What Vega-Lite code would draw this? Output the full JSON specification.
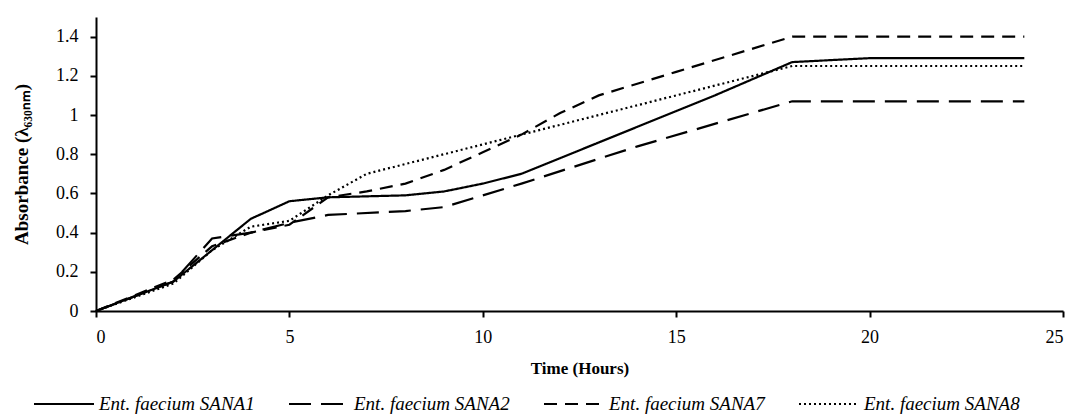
{
  "$schema": "https://vega.github.io/schema/vega-lite/v6.json",
  "width": 967,
  "height": 294,
  "autosize": {"type": "none"},
  "padding": {"left": 96, "top": 17, "right": 10, "bottom": 106},
  "background": "white",
  "config": {"view": {"stroke": null}, "font": "Liberation Serif"},
  "data": {"values": [
    {"strain": "Ent. faecium SANA1", "time": 0, "abs": 0},
    {"strain": "Ent. faecium SANA1", "time": 2, "abs": 0.15},
    {"strain": "Ent. faecium SANA1", "time": 3, "abs": 0.31},
    {"strain": "Ent. faecium SANA1", "time": 4, "abs": 0.47},
    {"strain": "Ent. faecium SANA1", "time": 5, "abs": 0.56},
    {"strain": "Ent. faecium SANA1", "time": 6, "abs": 0.58},
    {"strain": "Ent. faecium SANA1", "time": 8, "abs": 0.59},
    {"strain": "Ent. faecium SANA1", "time": 9, "abs": 0.61},
    {"strain": "Ent. faecium SANA1", "time": 10, "abs": 0.65},
    {"strain": "Ent. faecium SANA1", "time": 11, "abs": 0.70},
    {"strain": "Ent. faecium SANA1", "time": 13, "abs": 0.86},
    {"strain": "Ent. faecium SANA1", "time": 16, "abs": 1.10},
    {"strain": "Ent. faecium SANA1", "time": 18, "abs": 1.27},
    {"strain": "Ent. faecium SANA1", "time": 20, "abs": 1.29},
    {"strain": "Ent. faecium SANA1", "time": 24, "abs": 1.29},
    {"strain": "Ent. faecium SANA2", "time": 0, "abs": 0},
    {"strain": "Ent. faecium SANA2", "time": 2, "abs": 0.15},
    {"strain": "Ent. faecium SANA2", "time": 3, "abs": 0.37},
    {"strain": "Ent. faecium SANA2", "time": 4, "abs": 0.40},
    {"strain": "Ent. faecium SANA2", "time": 5, "abs": 0.45},
    {"strain": "Ent. faecium SANA2", "time": 6, "abs": 0.49},
    {"strain": "Ent. faecium SANA2", "time": 8, "abs": 0.51},
    {"strain": "Ent. faecium SANA2", "time": 9, "abs": 0.53},
    {"strain": "Ent. faecium SANA2", "time": 10, "abs": 0.59},
    {"strain": "Ent. faecium SANA2", "time": 11, "abs": 0.65},
    {"strain": "Ent. faecium SANA2", "time": 14, "abs": 0.84},
    {"strain": "Ent. faecium SANA2", "time": 18, "abs": 1.07},
    {"strain": "Ent. faecium SANA2", "time": 24, "abs": 1.07},
    {"strain": "Ent. faecium SANA7", "time": 0, "abs": 0},
    {"strain": "Ent. faecium SANA7", "time": 2, "abs": 0.16},
    {"strain": "Ent. faecium SANA7", "time": 3, "abs": 0.33},
    {"strain": "Ent. faecium SANA7", "time": 4, "abs": 0.40},
    {"strain": "Ent. faecium SANA7", "time": 5, "abs": 0.44},
    {"strain": "Ent. faecium SANA7", "time": 6, "abs": 0.58},
    {"strain": "Ent. faecium SANA7", "time": 7, "abs": 0.61},
    {"strain": "Ent. faecium SANA7", "time": 8, "abs": 0.65},
    {"strain": "Ent. faecium SANA7", "time": 9, "abs": 0.72},
    {"strain": "Ent. faecium SANA7", "time": 10, "abs": 0.81},
    {"strain": "Ent. faecium SANA7", "time": 11, "abs": 0.90},
    {"strain": "Ent. faecium SANA7", "time": 12, "abs": 1.01},
    {"strain": "Ent. faecium SANA7", "time": 13, "abs": 1.10},
    {"strain": "Ent. faecium SANA7", "time": 15, "abs": 1.22},
    {"strain": "Ent. faecium SANA7", "time": 17, "abs": 1.34},
    {"strain": "Ent. faecium SANA7", "time": 18, "abs": 1.40},
    {"strain": "Ent. faecium SANA7", "time": 24, "abs": 1.40},
    {"strain": "Ent. faecium SANA8", "time": 0, "abs": 0},
    {"strain": "Ent. faecium SANA8", "time": 2, "abs": 0.14},
    {"strain": "Ent. faecium SANA8", "time": 3, "abs": 0.31},
    {"strain": "Ent. faecium SANA8", "time": 4, "abs": 0.43},
    {"strain": "Ent. faecium SANA8", "time": 5, "abs": 0.46},
    {"strain": "Ent. faecium SANA8", "time": 6, "abs": 0.59},
    {"strain": "Ent. faecium SANA8", "time": 7, "abs": 0.70},
    {"strain": "Ent. faecium SANA8", "time": 9, "abs": 0.80},
    {"strain": "Ent. faecium SANA8", "time": 11, "abs": 0.90},
    {"strain": "Ent. faecium SANA8", "time": 13, "abs": 1.00},
    {"strain": "Ent. faecium SANA8", "time": 15, "abs": 1.10},
    {"strain": "Ent. faecium SANA8", "time": 18, "abs": 1.25},
    {"strain": "Ent. faecium SANA8", "time": 24, "abs": 1.25}
  ]},
  "mark": {"type": "line", "strokeWidth": 2.2, "color": "black"},
  "encoding": {
    "x": {
      "field": "time", "type": "quantitative",
      "scale": {"domain": [0, 25], "nice": false},
      "axis": {
        "title": "Time (Hours)", "values": [0, 5, 10, 15, 20, 25], "grid": false,
        "domainColor": "black", "domainWidth": 2, "tickColor": "black", "tickWidth": 2, "tickSize": 6,
        "labelFontSize": 18, "labelColor": "black", "labelPadding": 11, "labelFont": "Liberation Serif",
        "titleFontSize": 17, "titleFontWeight": "bold", "titleColor": "black", "titlePadding": 14, "titleFont": "Liberation Serif"
      }
    },
    "y": {
      "field": "abs", "type": "quantitative",
      "scale": {"domain": [0, 1.5], "nice": false},
      "axis": {
        "title": "Absorbance (λ₆₃₀ₙₘ)", "values": [0, 0.2, 0.4, 0.6, 0.8, 1, 1.2, 1.4], "format": "~g", "grid": false,
        "domainColor": "black", "domainWidth": 2, "tickColor": "black", "tickWidth": 2, "tickSize": 6,
        "labelFontSize": 18, "labelColor": "black", "labelPadding": 12, "labelFont": "Liberation Serif",
        "titleFontSize": 19, "titleFontWeight": "bold", "titleColor": "black", "titlePadding": 24, "titleFont": "Liberation Serif"
      }
    },
    "strokeDash": {
      "field": "strain", "type": "nominal",
      "scale": {
        "domain": ["Ent. faecium SANA1", "Ent. faecium SANA2", "Ent. faecium SANA7", "Ent. faecium SANA8"],
        "range": [[1, 0], [22, 10], [13, 8], [2, 3]]
      },
      "legend": {
        "title": null, "orient": "none", "legendX": -63, "legendY": 356,
        "direction": "horizontal", "columns": 4, "columnPadding": 30,
        "symbolType": "stroke", "symbolSize": 3600, "symbolStrokeWidth": 2, "symbolStrokeColor": "black",
        "labelFontSize": 19, "labelFontStyle": "italic", "labelFont": "Liberation Serif", "labelColor": "black",
        "labelOffset": 4, "labelLimit": 300
      }
    }
  }
}
